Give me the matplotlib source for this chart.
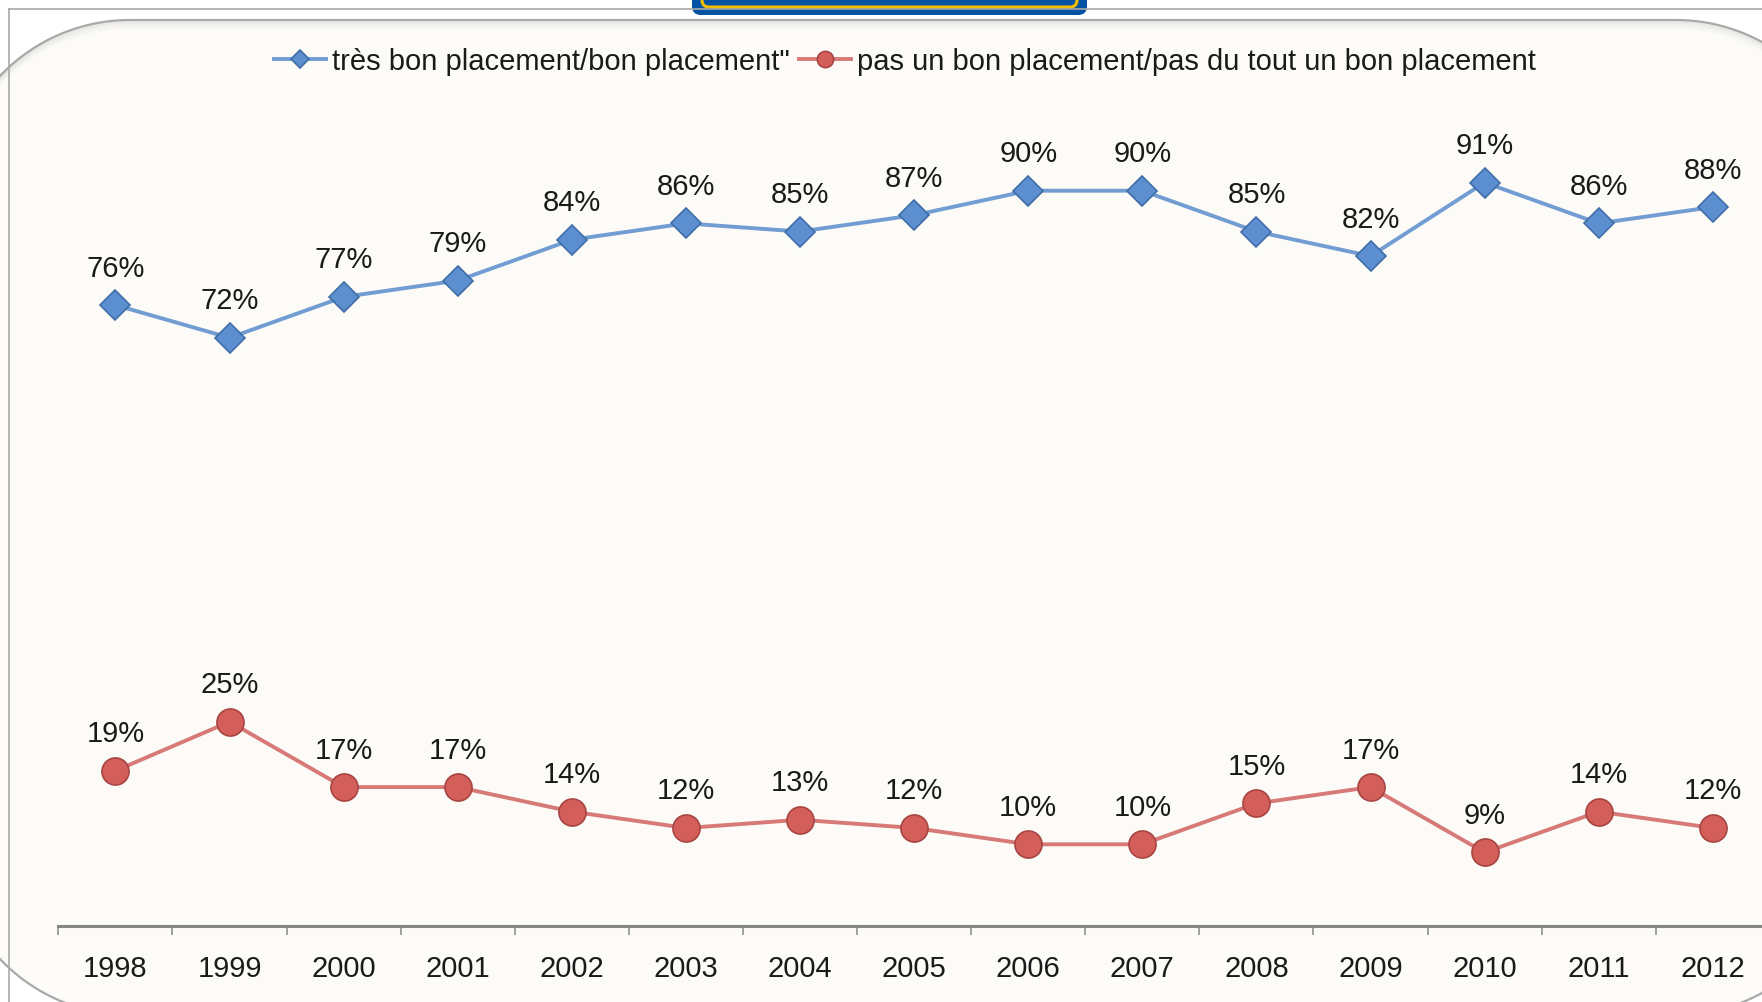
import matplotlib
matplotlib.use("Agg")
import matplotlib.pyplot as plt
from matplotlib.patches import FancyBboxPatch, Polygon
import numpy as np

plt.rcParams['font.family'] = ['Liberation Sans', 'DejaVu Sans']

years = ["1998", "1999", "2000", "2001", "2002", "2003", "2004", "2005",
         "2006", "2007", "2008", "2009", "2010", "2011", "2012"]
bon = [76, 72, 77, 79, 84, 86, 85, 87, 90, 90, 85, 82, 91, 86, 88]
pas = [19, 25, 17, 17, 14, 12, 13, 12, 10, 10, 15, 17, 9, 14, 12]
labels = ['très bon placement/bon placement"',
          "pas un bon placement/pas du tout un bon placement"]

W, H = 1762, 1003


def rounded_rect(x0, y0, x1, y1, r, n=40):
    # outline of a rounded rectangle, pixel coords with y going down
    pts = []
    for cx, cy, a0 in [(x0 + r, y0 + r, np.pi), (x1 - r, y0 + r, 1.5 * np.pi),
                       (x1 - r, y1 - r, 0.0), (x0 + r, y1 - r, 0.5 * np.pi)]:
        t = np.linspace(a0, a0 + 0.5 * np.pi, n)
        pts.append(np.column_stack([cx + r * np.cos(t), cy + r * np.sin(t)]))
    return np.vstack(pts)


fig = plt.figure(figsize=(W / 100, H / 100), dpi=100)
fig.patch.set_facecolor("white")

# background decorations, drawn in pixel coords
bg = fig.add_axes([0, 0, 1, 1], zorder=0)
bg.set_xlim(0, W)
bg.set_ylim(H, 0)
bg.set_autoscale_on(False)
bg.axis("off")

# outer frame
bg.plot([9, W], [10, 10], color="#a8a8a8", lw=1.2)
bg.plot([9, 9], [10, H], color="#a8a8a8", lw=1.2)

# rounded panel
px0, py0, px1, py1, rad = -49, 21, 1855, 1016, 179
outline = rounded_rect(px0, py0, px1, py1, rad)
panel = Polygon(outline, closed=True, facecolor="#fcfbf7", edgecolor="#a9a9a9", lw=1.6)
bg.add_patch(panel)
# soft inner shadow: same outline shifted down a few pixels
for i, a in zip([2, 4, 6, 8], [0.16, 0.10, 0.06, 0.03]):
    sh = Polygon(outline + [0, i], closed=True, facecolor="none",
                 edgecolor="#9a9a9a", lw=1.8, alpha=a)
    bg.add_patch(sh)
    sh.set_clip_path(panel)

# blue tab at the top
tab = FancyBboxPatch((692, -30), 395, 46,
                     boxstyle="round,pad=0,rounding_size=9",
                     facecolor="#0052a3", edgecolor="none")
bg.add_patch(tab)
tab2 = FancyBboxPatch((702, -30), 375, 38,
                      boxstyle="round,pad=0,rounding_size=7",
                      facecolor="#0052a3", edgecolor="#f5bd00", lw=2.2)
bg.add_patch(tab2)

# main chart
ax = fig.add_axes([58.4 / W, 1 - 927 / H, 15 * 114.1 / W, (927 - 110) / H], zorder=2)
ax.patch.set_alpha(0)
x = np.arange(len(years))

ax.plot(x, bon, color="#719dd3", lw=2.8, marker="D", markersize=15,
        markerfacecolor="#5b8fd0", markeredgecolor="#3f6ea6", markeredgewidth=1.2,
        label=labels[0], zorder=3)
ax.plot(x, pas, color="#d77976", lw=2.8, marker="o", markersize=19.5,
        markerfacecolor="#d45e5a", markeredgecolor="#a84542", markeredgewidth=1.2,
        label=labels[1], zorder=3)

for xi, v in zip(x, bon):
    ax.annotate(f"{v}%", (xi, v), xytext=(0, 27), textcoords="offset points",
                ha="center", va="center", fontsize=21, color="#1a1a1a")
for xi, v in zip(x, pas):
    ax.annotate(f"{v}%", (xi, v), xytext=(0, 27), textcoords="offset points",
                ha="center", va="center", fontsize=21, color="#1a1a1a")

ax.set_xlim(-0.5, len(years) - 0.5)
ax.set_ylim(0, 100)
ax.set_xticks(x)
ax.set_xticklabels(years, fontsize=21, color="#1a1a1a")
ax.set_xticks(np.arange(-0.5, len(years)), minor=True)
ax.tick_params(axis="x", which="major", length=0, pad=20)
ax.tick_params(axis="x", which="minor", length=6.5, width=1.1, color="#868686")
ax.set_yticks([])
for s in ["left", "right", "top"]:
    ax.spines[s].set_visible(False)
ax.spines["bottom"].set_color("#868686")
ax.spines["bottom"].set_linewidth(2.2)

fig.legend(loc="center", bbox_to_anchor=(905 / W, 1 - 62 / H), ncol=2,
           frameon=False, fontsize=21, handlelength=1.8, handletextpad=0.2,
           columnspacing=0.3, markerscale=0.6, labelcolor="#1a1a1a")

fig.savefig("out.png", dpi=100, facecolor="white")
